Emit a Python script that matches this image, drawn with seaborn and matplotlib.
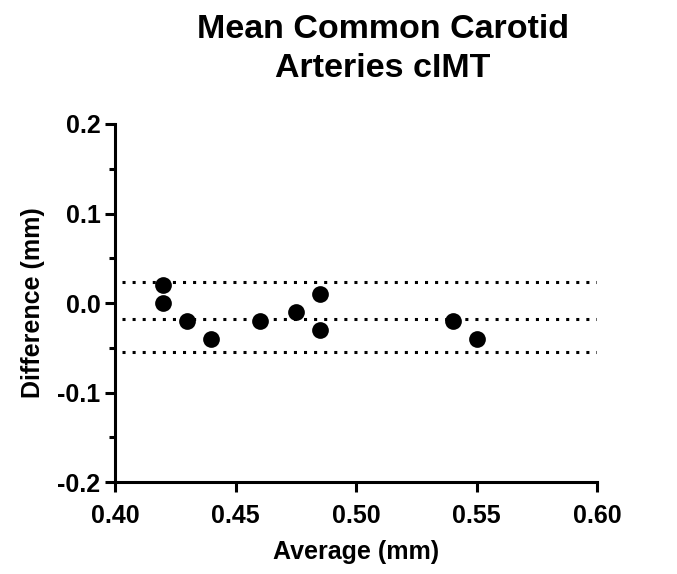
import matplotlib
matplotlib.use("Agg")
import matplotlib.pyplot as plt
import seaborn as sns
import pandas as pd
from matplotlib.ticker import MultipleLocator

# Bland-Altman data
average_mm = [0.42, 0.42, 0.43, 0.44, 0.46, 0.475, 0.485, 0.485, 0.54, 0.55]
difference_mm = [0.02, 0.0, -0.02, -0.04, -0.02, -0.01, 0.01, -0.03, -0.02, -0.04]
bias = -0.018
upper_loa = 0.024
lower_loa = -0.055

df = pd.DataFrame({"average": average_mm, "difference": difference_mm})

sns.set_style("ticks", {"axes.edgecolor": "black", "text.color": "black",
                        "axes.labelcolor": "black", "xtick.color": "black",
                        "ytick.color": "black"})
plt.rcParams['font.family'] = ['Liberation Sans', 'DejaVu Sans']
plt.rcParams['font.weight'] = 'bold'

fig = plt.figure(figsize=(6.77, 5.74), dpi=100)
ax = fig.add_axes([0.170, 0.160, 0.712, 0.624])

sns.scatterplot(data=df, x="average", y="difference", color="black",
                s=145, edgecolor="black", linewidth=0, ax=ax, zorder=3)

for yv in [upper_loa, bias, lower_loa]:
    ax.axhline(yv, xmin=0.015, xmax=1.0, color="black", linestyle=(0, (1, 2.3)),
               linewidth=2.2, zorder=2)

ax.set_xlim(0.40, 0.60)
ax.set_ylim(-0.2, 0.2)
ax.set_xticks([0.40, 0.45, 0.50, 0.55, 0.60])
ax.set_xticklabels(["0.40", "0.45", "0.50", "0.55", "0.60"])
ax.set_yticks([-0.2, -0.1, 0.0, 0.1, 0.2])
ax.set_yticklabels(["-0.2", "-0.1", "0.0", "0.1", "0.2"])
ax.yaxis.set_minor_locator(MultipleLocator(0.05))

sns.despine(ax=ax)
for side in ["left", "bottom"]:
    ax.spines[side].set_linewidth(2.2)
ax.tick_params(axis="both", which="major", length=7.5, width=2.2,
               labelsize=18, pad=3, direction="out", colors="black")
ax.tick_params(axis="x", which="major", pad=8)
ax.tick_params(axis="y", which="minor", length=4, width=2.2)
for lab in ax.get_xticklabels() + ax.get_yticklabels():
    lab.set_fontweight("bold")

ax.set_xlabel("Average (mm)", fontsize=18, fontweight="bold", labelpad=9)
ax.set_ylabel("Difference (mm)", fontsize=18, fontweight="bold", labelpad=9)

fig.text(383 / 677, 1 - 49 / 574, "Mean Common Carotid\nArteries cIMT",
         ha="center", va="center", fontsize=24.5, fontweight="bold",
         linespacing=1.3)

fig.savefig("out.png", dpi=100)
